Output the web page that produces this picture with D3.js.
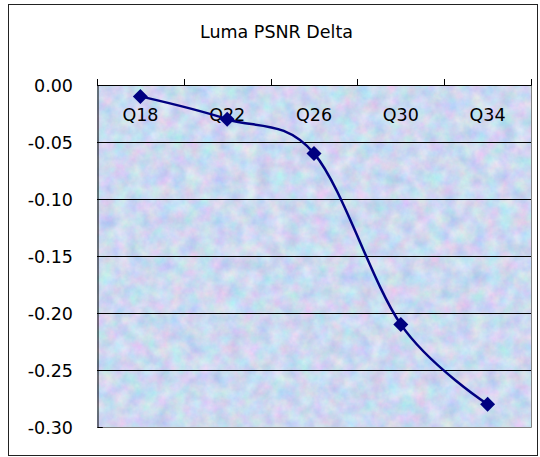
<!DOCTYPE html>
<html>
<head>
<meta charset="utf-8">
<script src="https://cdn.jsdelivr.net/npm/d3@7"></script>
<style>
  body { margin: 0; background: #fff; }
  text { font-family: "DejaVu Sans", sans-serif; fill: #000; }
</style>
</head>
<body>
<div id="chart"></div>
<script>
const categories = ["Q18", "Q22", "Q26", "Q30", "Q34"];
const deltaValues = [-0.01, -0.03, -0.06, -0.21, -0.28];
const yTicks = [0, -0.05, -0.10, -0.15, -0.20, -0.25, -0.30];
const chartTitle = "Luma PSNR Delta";

const width = 540;
const height = 457;
const plot = { left: 97, right: 531, top: 85, bottom: 427 };

const svg = d3.select("#chart")
    .append("svg")
    .attr("width", width)
    .attr("height", height);

// marble-ish texture like the Excel plot area fill
const defs = svg.append("defs");
const filter = defs.append("filter")
    .attr("id", "marble")
    .attr("x", 0).attr("y", 0).attr("width", "100%").attr("height", "100%")
    .attr("color-interpolation-filters", "sRGB");
filter.append("feTurbulence")
    .attr("type", "fractalNoise")
    .attr("baseFrequency", 0.07)
    .attr("numOctaves", 4)
    .attr("seed", 7);
filter.append("feColorMatrix")
    .attr("type", "matrix")
    .attr("values", "0.32 0 0 0 0.64  0 0.22 0 0 0.74  0 0 0.12 0 0.88  0 0 0 0 1");

// chart area border
svg.append("rect")
    .attr("x", 8.5).attr("y", 4.5)
    .attr("width", 529).attr("height", 451)
    .attr("fill", "#fff")
    .attr("stroke", "#222");

svg.append("text")
    .attr("x", 276.5)
    .attr("y", 38)
    .attr("text-anchor", "middle")
    .style("font-size", "17.5px")
    .text(chartTitle);

const x = d3.scaleBand()
    .domain(categories)
    .range([plot.left, plot.right]);

const y = d3.scaleLinear()
    .domain([-0.30, 0])
    .range([plot.bottom, plot.top]);

svg.append("rect")
    .attr("x", plot.left).attr("y", plot.top)
    .attr("width", plot.right - plot.left)
    .attr("height", plot.bottom - plot.top)
    .attr("filter", "url(#marble)");

// gridlines
svg.append("g")
    .selectAll("line")
    .data(yTicks.slice(1, -1))
    .enter().append("line")
    .attr("x1", plot.left).attr("x2", plot.right)
    .attr("y1", d => Math.round(y(d)) + 0.5)
    .attr("y2", d => Math.round(y(d)) + 0.5)
    .attr("stroke", "#000");

// plot area border (right / bottom)
svg.append("path")
    .attr("d", `M${plot.left},${plot.bottom + 0.5}H${plot.right + 0.5}V${plot.top}`)
    .attr("fill", "none")
    .attr("stroke", "#808080");

// y axis
const yAxis = svg.append("g")
    .attr("transform", `translate(${plot.left + 0.5},0)`)
    .call(d3.axisRight(y).tickValues(yTicks).tickSize(5).tickFormat(""));
yAxis.select(".domain").attr("stroke", "#000");
yAxis.selectAll(".tick line").attr("stroke", "#000");

svg.append("g")
    .selectAll("text")
    .data(yTicks)
    .enter().append("text")
    .attr("x", 73)
    .attr("y", d => y(d) + 7)
    .attr("text-anchor", "end")
    .style("font-size", "17.5px")
    .text(d => d3.format(".2f")(d).replace("−", "-"));

// category axis along the zero line, ticks pointing up
const xEdges = categories.map(c => x(c)).concat([plot.right]);
svg.append("line")
    .attr("x1", plot.left).attr("x2", plot.right + 0.5)
    .attr("y1", Math.round(y(0)) + 0.5).attr("y2", Math.round(y(0)) + 0.5)
    .attr("stroke", "#000");
svg.append("g")
    .selectAll("line")
    .data(xEdges)
    .enter().append("line")
    .attr("x1", d => Math.round(d) + 0.5).attr("x2", d => Math.round(d) + 0.5)
    .attr("y1", Math.round(y(0)) - 6).attr("y2", Math.round(y(0)) + 0.5)
    .attr("stroke", "#000");

svg.append("g")
    .selectAll("text")
    .data(categories)
    .enter().append("text")
    .attr("x", d => x(d) + x.bandwidth() / 2)
    .attr("y", y(0) + 36)
    .attr("text-anchor", "middle")
    .style("font-size", "17.5px")
    .text(d => d);

// series
const points = categories.map((c, i) => ({ cat: c, value: deltaValues[i] }));

const line = d3.line()
    .x(d => x(d.cat) + x.bandwidth() / 2)
    .y(d => y(d.value))
    .curve(d3.curveCardinal.tension(0));

svg.append("path")
    .datum(points)
    .attr("d", line)
    .attr("fill", "none")
    .attr("stroke", "#000080")
    .attr("stroke-width", 2.5);

svg.selectAll("rect.marker")
    .data(points)
    .enter().append("rect")
    .attr("class", "marker")
    .attr("x", -5.3).attr("y", -5.3)
    .attr("width", 10.6).attr("height", 10.6)
    .attr("fill", "#000080")
    .attr("transform", d => `translate(${x(d.cat) + x.bandwidth() / 2},${y(d.value)}) rotate(45)`);
</script>
</body>
</html>
